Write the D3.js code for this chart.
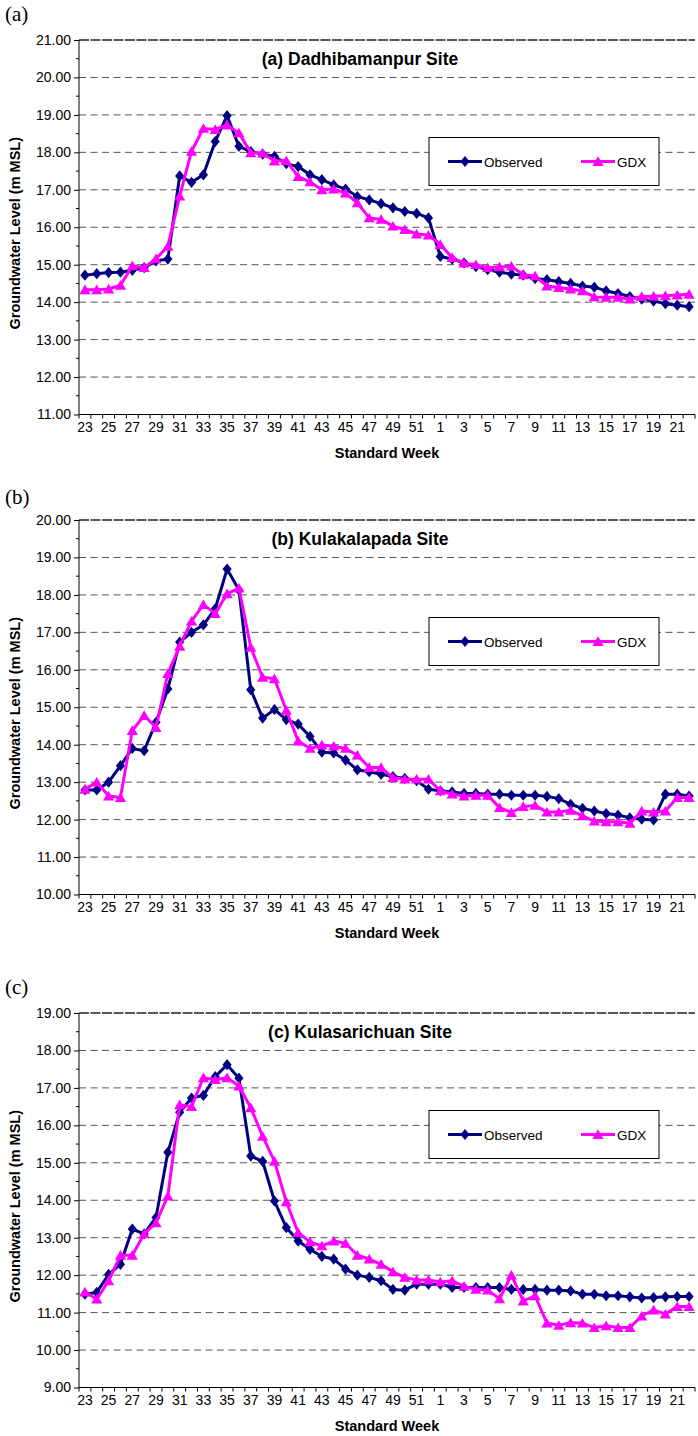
<!DOCTYPE html>
<html>
<head>
<meta charset="utf-8">
<script src="https://cdn.jsdelivr.net/npm/d3@7"></script>
<style>
  html, body { margin: 0; padding: 0; background: #fff; }
  svg { display: block; }
</style>
</head>
<body>
<svg id="chart" width="698" height="1436"></svg>
<script>
// ---------- DATA ----------
const weeks = [23,24,25,26,27,28,29,30,31,32,33,34,35,36,37,38,39,40,41,42,43,44,45,46,47,48,49,50,51,52,
               1,2,3,4,5,6,7,8,9,10,11,12,13,14,15,16,17,18,19,20,21,22];
const weekTickLabels = [23,25,27,29,31,33,35,37,39,41,43,45,47,49,51,1,3,5,7,9,11,13,15,17,19,21];
const seriesNames = ["Observed", "GDX"];

const panelLetters = ["(a)", "(b)", "(c)"];
const siteTitles = ["(a) Dadhibamanpur Site", "(b) Kulakalapada Site", "(c) Kulasarichuan Site"];
const yMins = [11, 10, 9];
const yMaxs = [21, 20, 19];

const observedA = [14.72,14.76,14.79,14.80,14.85,14.92,15.10,15.15,17.37,17.20,17.40,18.29,18.98,18.16,18.02,17.95,17.89,17.70,17.62,17.40,17.27,17.13,17.02,16.82,16.73,16.63,16.52,16.42,16.37,16.25,
                   15.22,15.15,15.05,14.95,14.87,14.80,14.75,14.72,14.63,14.60,14.55,14.50,14.43,14.40,14.30,14.23,14.15,14.08,14.03,13.96,13.92,13.88];
const gdxA      = [14.33,14.33,14.35,14.45,14.97,14.92,15.16,15.49,16.83,18.03,18.64,18.61,18.73,18.52,17.99,17.98,17.77,17.78,17.35,17.21,17.00,17.02,16.91,16.65,16.25,16.21,16.03,15.94,15.82,15.79,
                   15.54,15.19,15.04,15.00,14.92,14.94,14.96,14.73,14.70,14.43,14.39,14.35,14.30,14.14,14.13,14.13,14.08,14.15,14.16,14.17,14.19,14.21];

const observedB = [12.79,12.79,13.00,13.44,13.90,13.84,14.60,15.49,16.74,17.00,17.20,17.63,18.69,18.13,15.47,14.71,14.94,14.67,14.55,14.22,13.80,13.78,13.59,13.33,13.28,13.21,13.15,13.10,13.04,12.81,
                   12.77,12.74,12.70,12.70,12.68,12.68,12.65,12.65,12.65,12.62,12.56,12.41,12.30,12.23,12.16,12.12,12.05,12.01,11.99,12.68,12.68,12.63];
const gdxB      = [12.81,13.00,12.63,12.59,14.38,14.78,14.46,15.90,16.63,17.30,17.74,17.50,18.03,18.18,16.60,15.80,15.76,14.92,14.10,13.90,13.99,13.96,13.90,13.72,13.39,13.39,13.12,13.08,13.08,13.08,
                   12.77,12.68,12.63,12.65,12.65,12.32,12.19,12.35,12.38,12.20,12.20,12.25,12.10,11.96,11.94,11.94,11.90,12.23,12.20,12.23,12.59,12.59];

const observedC = [11.49,11.54,12.02,12.29,13.23,13.10,13.54,15.28,16.35,16.73,16.80,17.30,17.62,17.26,15.18,15.04,13.98,13.27,12.91,12.69,12.50,12.43,12.16,12.00,11.94,11.85,11.62,11.60,11.76,11.76,
                   11.76,11.67,11.67,11.67,11.67,11.67,11.62,11.62,11.62,11.60,11.60,11.58,11.49,11.49,11.45,11.45,11.42,11.39,11.40,11.42,11.43,11.43];
const gdxC      = [11.55,11.36,11.85,12.53,12.53,13.10,13.40,14.11,16.55,16.50,17.27,17.22,17.27,17.05,16.47,15.71,15.04,13.96,13.14,12.89,12.78,12.91,12.85,12.53,12.43,12.29,12.09,11.94,11.87,11.87,
                   11.82,11.85,11.70,11.62,11.60,11.37,12.00,11.31,11.45,10.72,10.66,10.73,10.72,10.60,10.65,10.60,10.60,10.91,11.07,10.96,11.16,11.16];

const observedSeries = [observedA, observedB, observedC];
const gdxSeries = [gdxA, gdxB, gdxC];

// ---------- LAYOUT ----------
const svg = d3.select("#chart");
const plotLeft = 79, plotRight = 695;
const panelTops = [40, 520, 1013];
const plotH = 374.5;
const letterBaselines = [21, 504, 994];
const colors = { Observed: "#000080", GDX: "#FF00FF" };
const sans = "'Liberation Sans', Arial, Helvetica, sans-serif";

const diamond = { draw(ctx, size) { const w = 4.6, h = 5.6; ctx.moveTo(0, -h); ctx.lineTo(w, 0); ctx.lineTo(0, h); ctx.lineTo(-w, 0); ctx.closePath(); } };
const triangle = { draw(ctx, size) { const w = 5.6, h = 5.2; ctx.moveTo(0, -h); ctx.lineTo(w, h*0.85); ctx.lineTo(-w, h*0.85); ctx.closePath(); } };
const symbols = { Observed: d3.symbol().type(diamond)(), GDX: d3.symbol().type(triangle)() };

const x = d3.scaleBand().domain(weeks).range([plotLeft, plotRight]).paddingInner(0).paddingOuter(0);
const xc = w => x(w) + x.bandwidth() / 2;

panelLetters.forEach((letter, p) => {
  const top = panelTops[p], bottom = top + plotH;
  const y = d3.scaleLinear().domain([yMins[p], yMaxs[p]]).range([bottom, top]);
  const g = svg.append("g");

  // panel letter
  g.append("text").attr("x", 5).attr("y", letterBaselines[p])
    .attr("font-family", "'Liberation Serif', 'Times New Roman', serif").attr("font-size", 21)
    .text(letter);

  // gridlines
  const gridVals = d3.range(yMins[p] + 1, yMaxs[p] + 1);
  g.selectAll(".grid").data(gridVals).enter().append("line")
    .attr("x1", plotLeft).attr("x2", plotRight)
    .attr("y1", d => y(d)).attr("y2", d => y(d))
    .attr("stroke", d => d === yMaxs[p] ? "#222" : "#555")
    .attr("stroke-width", d => d === yMaxs[p] ? 1.3 : 1)
    .attr("stroke-dasharray", d => d === yMaxs[p] ? "10,1.5" : "7,4.5");

  // y axis
  const yAxis = d3.axisLeft(y).tickValues(d3.range(yMins[p], yMaxs[p] + 1)).tickFormat(d3.format(".2f")).tickSize(5).tickPadding(3);
  const ya = g.append("g").attr("transform", `translate(${plotLeft},0)`).call(yAxis);
  ya.select(".domain").attr("stroke", "#000").attr("d", `M0,${top}V${bottom}`);
  ya.selectAll("text").attr("font-family", sans).attr("font-size", 14).attr("fill", "#000");
  // minor ticks
  g.selectAll(".minor").data(d3.range(yMins[p] + 0.5, yMaxs[p], 1)).enter().append("line")
    .attr("x1", plotLeft - 3).attr("x2", plotLeft).attr("y1", d => y(d)).attr("y2", d => y(d))
    .attr("stroke", "#000");

  // x axis
  const xAxis = d3.axisBottom(x).tickValues(weekTickLabels).tickSize(0).tickPadding(8);
  const xa = g.append("g").attr("transform", `translate(0,${bottom})`).call(xAxis);
  xa.select(".domain").attr("stroke", "#000").attr("d", `M${plotLeft},0H${plotRight}`);
  xa.selectAll("text").attr("font-family", sans).attr("font-size", 14).attr("fill", "#000");
  const boundaries = weeks.map(w => x(w)).concat([plotRight]);
  g.selectAll(".xt").data(boundaries).enter().append("line")
    .attr("x1", d => d).attr("x2", d => d).attr("y1", bottom).attr("y2", bottom + 4)
    .attr("stroke", "#000");

  // axis titles
  g.append("text").attr("x", (plotLeft + plotRight) / 2).attr("y", bottom + 43)
    .attr("text-anchor", "middle").attr("font-family", sans).attr("font-weight", "bold").attr("font-size", 14.5)
    .text("Standard Week");
  g.append("text").attr("transform", `translate(20,${(top + bottom) / 2 + 6}) rotate(-90)`)
    .attr("text-anchor", "middle").attr("font-family", sans).attr("font-weight", "bold").attr("font-size", 14.5)
    .text("Groundwater Level (m MSL)");

  // site title
  g.append("text").attr("x", 360).attr("y", top + 25)
    .attr("text-anchor", "middle").attr("font-family", sans).attr("font-weight", "bold").attr("font-size", 17.5)
    .text(siteTitles[p]);

  // series
  const data = { Observed: observedSeries[p], GDX: gdxSeries[p] };
  const line = d3.line().x((d, i) => xc(weeks[i])).y(d => y(d));
  seriesNames.forEach(name => {
    const vals = data[name];
    g.append("path").datum(vals).attr("d", line)
      .attr("fill", "none").attr("stroke", colors[name]).attr("stroke-width", 3).attr("stroke-linejoin", "round");
    g.selectAll(".m" + name).data(vals).enter().append("path")
      .attr("d", symbols[name])
      .attr("transform", (d, i) => `translate(${xc(weeks[i])},${y(d)})`)
      .attr("fill", colors[name]);
  });

  // legend
  const lg = g.append("g").attr("transform", `translate(429,${top + 97.5})`);
  lg.append("rect").attr("width", 230).attr("height", 48).attr("fill", "#fff").attr("stroke", "#000").attr("stroke-width", 1);
  const legendItems = [{ name: "Observed", x0: 19 }, { name: "GDX", x0: 152 }];
  legendItems.forEach(it => {
    lg.append("line").attr("x1", it.x0).attr("x2", it.x0 + 34).attr("y1", 24).attr("y2", 24)
      .attr("stroke", colors[it.name]).attr("stroke-width", 3);
    lg.append("path").attr("d", symbols[it.name]).attr("transform", `translate(${it.x0 + 17},24)`).attr("fill", colors[it.name]);
    lg.append("text").attr("x", it.x0 + 36).attr("y", 29).attr("font-family", sans).attr("font-size", 13.5).text(it.name);
  });
});
</script>
</body>
</html>
